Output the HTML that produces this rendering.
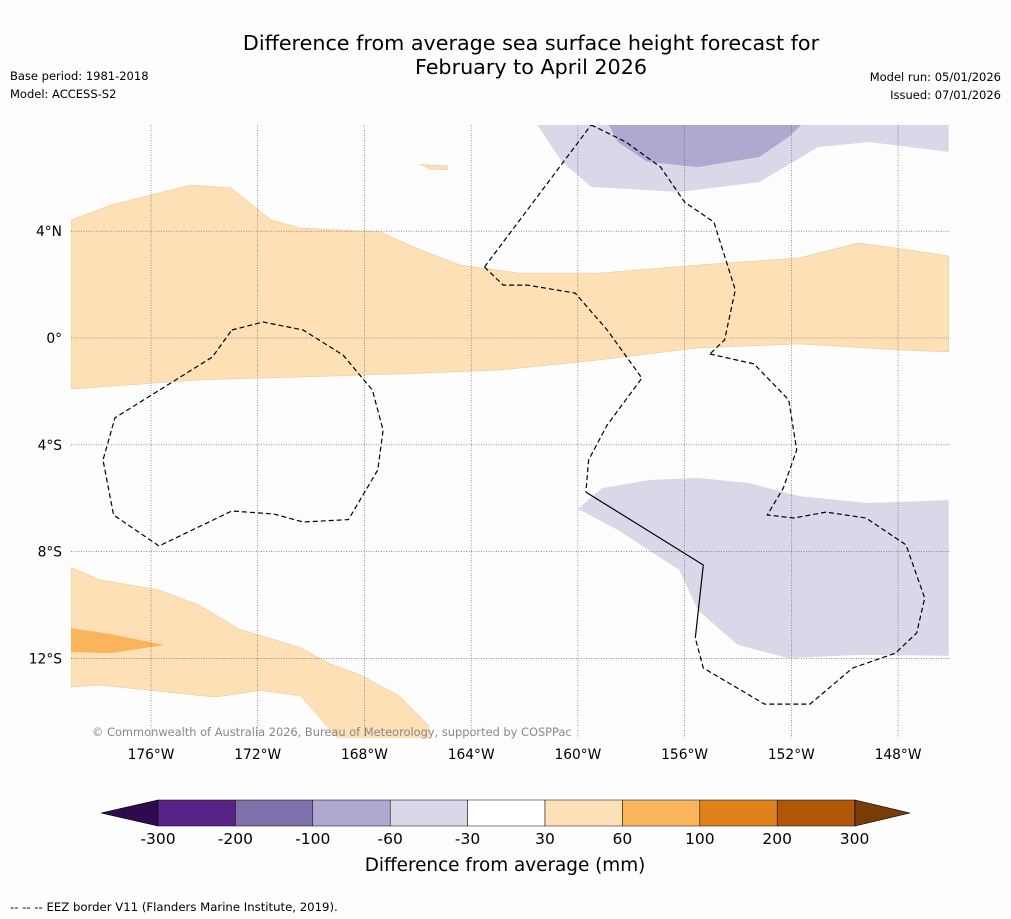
<!DOCTYPE html>
<html><head><meta charset="utf-8"><style>
body{margin:0;background:#fdfdfd;}
svg{display:block;font-family:"DejaVu Sans","Liberation Sans",sans-serif;}
</style></head><body>
<svg id="c" width="1011" height="919" viewBox="0 0 1011 919">
<rect width="1011" height="919" fill="#fdfdfd"/>
<text x="531" y="50" font-size="20.7" text-anchor="middle">Difference from average sea surface height forecast for</text>
<text x="531" y="74" font-size="20.7" text-anchor="middle">February to April 2026</text>
<text x="10" y="80" font-size="11.5">Base period: 1981-2018</text>
<text x="10" y="98" font-size="11.5">Model: ACCESS-S2</text>
<text x="1001" y="81" font-size="11.5" text-anchor="end">Model run: 05/01/2026</text>
<text x="1001" y="99" font-size="11.5" text-anchor="end">Issued: 07/01/2026</text>
<g id="map"></g>
<g id="cb"></g>
<text x="505" y="871" font-size="18.4" text-anchor="middle">Difference from average (mm)</text>
<text x="10" y="911" font-size="11.7">--  --  -- EEZ border V11 (Flanders Marine Institute, 2019).</text>
</svg>
<script>
const lonTicks=[-176,-172,-168,-164,-160,-156,-152,-148];
const lonLabels=["176°W","172°W","168°W","164°W","160°W","156°W","152°W","148°W"];
const latTicks=[4,0,-4,-8,-12];
const latLabels=["4°N","0°","4°S","8°S","12°S"];
const cbLevels=[-300,-200,-100,-60,-30,30,60,100,200,300];
const cbColors=["#582488","#8070ac","#b0a8d0","#d8d8e8","#ffffff","#fde0b6","#fab45c","#e0821a","#b05808"];
const posBand=[[-179,4.42],[-177.5,4.98],[-174.5,5.73],[-173,5.62],[-171.5,4.42],[-170.4,4.12],[-167.4,3.97],[-165.9,3.3],[-164.4,2.73],[-162.2,2.43],[-159.2,2.43],[-155.5,2.73],[-151.7,3.0],[-149.5,3.56],[-147.6,3.3],[-146.1,3.07],[-146.1,-0.52],[-147.9,-0.45],[-151.7,-0.22],[-155.5,-0.37],[-159.2,-0.82],[-162.9,-1.2],[-166.7,-1.35],[-170.4,-1.46],[-174.2,-1.57],[-179,-1.91]];
const posSW=[[-179,-8.6],[-177.9,-9.06],[-175.7,-9.44],[-174.2,-10.0],[-172.7,-10.9],[-170.4,-11.6],[-169.3,-12.2],[-168.2,-12.6],[-166.7,-13.4],[-165.6,-14.5],[-165.6,-15],[-169,-15],[-170.4,-13.4],[-171.9,-13.2],[-173.6,-13.45],[-176,-13.2],[-177.9,-13.0],[-179,-13.07]];
const pos2SW=[[-179,-10.86],[-177.5,-11.09],[-175.5,-11.5],[-177.5,-11.8],[-179,-11.76]];
const posBlob=[[-165.9,6.5],[-164.9,6.45],[-164.9,6.3],[-165.5,6.32]];
const negNE=[[-161.6,8.1],[-160.6,6.6],[-159.5,5.66],[-156.2,5.47],[-153.2,5.84],[-151,7.15],[-149.1,7.34],[-146.1,6.97],[-146.1,8.1]];
const neg2NE=[[-158.9,8.1],[-158.5,7.34],[-157.4,6.6],[-155.5,6.4],[-153.2,6.78],[-152.1,7.53],[-151.5,8.1]];
const negSE=[[-160,-6.4],[-159.1,-5.62],[-157.3,-5.32],[-155.5,-5.24],[-153.6,-5.43],[-151.7,-5.92],[-149.1,-6.18],[-146.1,-6.07],[-146.1,-11.9],[-149.5,-11.87],[-152.1,-11.99],[-154,-11.5],[-155.5,-10.2],[-156.2,-8.69],[-158.5,-7.19]];
const negNW=[[-177.2,8.1],[-176.4,8.05],[-175.7,8.1]];
const eezA=[[-172.97,0.3],[-171.8,0.6],[-170.3,0.3],[-168.8,-0.64],[-167.7,-1.95],[-167.3,-3.45],[-167.5,-4.94],[-168.6,-6.8],[-170.3,-6.89],[-171.4,-6.59],[-172.97,-6.48],[-175.7,-7.79],[-177.4,-6.63],[-177.8,-4.57],[-177.35,-2.99],[-173.7,-0.71],[-172.97,0.3]];
const eezB=[[-159.5,7.98],[-158.2,7.34],[-156.9,6.4],[-156,5.09],[-154.9,4.34],[-154.1,1.8],[-154.5,-0.07],[-155.05,-0.6]];
const eezC=[[-163.5,2.66],[-162.8,1.98],[-161.9,1.98],[-160.1,1.68],[-158.9,0.3],[-157.6,-1.5],[-158.9,-3.26],[-159.6,-4.57],[-159.7,-5.77]];
const eezD=[[-163.5,2.66],[-159.5,7.98]];
const eezE=[[-155.05,-0.6],[-153.4,-0.97],[-152.1,-2.32],[-151.8,-4.19],[-152.3,-5.62],[-152.9,-6.63],[-151.9,-6.74],[-150.7,-6.52],[-149.2,-6.74],[-147.7,-7.75],[-147,-9.74],[-147.3,-11.05],[-148.1,-11.8],[-149.7,-12.36],[-151.3,-13.71],[-153.0,-13.71],[-155.3,-12.36],[-155.6,-11.24]];
const eezSolid=[[-159.7,-5.77],[-155.3,-8.5],[-155.6,-11.24]];
const X0=71,X1=950,Y0=125,Y1=738;
const X=lon=>151+(lon+176)*26.68;
const Y=lat=>338-lat*26.7;
const NS='http://www.w3.org/2000/svg';
const map=document.getElementById('map');
function mk(tag,at,parent){const e=document.createElementNS(NS,tag);for(const k in at)e.setAttribute(k,at[k]);(parent||map).appendChild(e);return e;}
const cp=mk('clipPath',{id:'clip'});mk('rect',{x:X0,y:Y0,width:X1-X0,height:Y1-Y0},cp);
const g=mk('g',{'clip-path':'url(#clip)'});
function pts(a){return a.map(p=>X(p[0]).toFixed(1)+','+Y(p[1]).toFixed(1)).join(' ');}
function poly(a,fill,name){const e=mk('polygon',{points:pts(a),fill:fill,stroke:fill==='#fde0b6'?'#e8c48e':'none','stroke-width':0.5},g);

}
poly(posBand,'#fde0b6','equatorial-positive-band');
poly(posSW,'#fde0b6','southwest-positive-region');
poly(pos2SW,'#fab45c','southwest-strong-positive');
poly(posBlob,'#fde0b6','small-positive-blob');
poly(negNE,'#d8d8e8','northeast-negative-region');
poly(neg2NE,'#b0a8d0','northeast-strong-negative');
poly(negSE,'#d8d8e8','southeast-negative-region');
poly(negNW,'#d8d8e8','northwest-negative-sliver');
lonTicks.forEach((l,i)=>{const x=X(l);
const ln=mk('line',{x1:x,x2:x,y1:Y0,y2:Y1,stroke:'#555','stroke-width':0.6,'stroke-dasharray':'1,1.5'},g);


const t=mk('text',{x:x,y:759,'font-size':13.8,'text-anchor':'middle'});t.textContent=lonLabels[i];

});
latTicks.forEach((l,i)=>{const y=Y(l);
const ln=mk('line',{x1:X0,x2:X1,y1:y,y2:y,stroke:'#555','stroke-width':0.6,'stroke-dasharray':'1,1.5'},g);


const t=mk('text',{x:62,y:y+5,'font-size':13.8,'text-anchor':'end'});t.textContent=latLabels[i];

});
[eezA,eezB,eezC,eezD,eezE].forEach(a=>{const e=mk('polyline',{points:pts(a),fill:'none',stroke:'#000','stroke-width':1.2,'stroke-dasharray':'5,3'},g);

});
{const e=mk('polyline',{points:pts(eezSolid),fill:'none',stroke:'#000','stroke-width':1.2},g);

}
const cr=mk('text',{x:92,y:736,'font-size':11.4,fill:'#888'});cr.textContent='© Commonwealth of Australia 2026, Bureau of Meteorology, supported by COSPPac';


const cb=document.getElementById('cb');
const cbX=v=>158+cbLevels.indexOf(v)*77.4;
const cbTop=800,cbH=26;
mk('polygon',{points:`101,813 158,800 158,826`,fill:'#2e0a4e',stroke:'#000','stroke-width':0.6},cb);
mk('polygon',{points:`910,813 855,800 855,826`,fill:'#7a3c06',stroke:'#000','stroke-width':0.6},cb);
cbColors.forEach((c,i)=>{const x1=cbX(cbLevels[i]),x2=cbX(cbLevels[i+1]);
const r=mk('rect',{x:x1,y:cbTop,width:x2-x1,height:cbH,fill:c,stroke:'#000','stroke-width':0.5},cb);

});
cbLevels.forEach(v=>{const t=mk('text',{x:cbX(v),y:844,'font-size':15.5,'text-anchor':'middle'},cb);t.textContent=v;

});
</script>
</body></html>
